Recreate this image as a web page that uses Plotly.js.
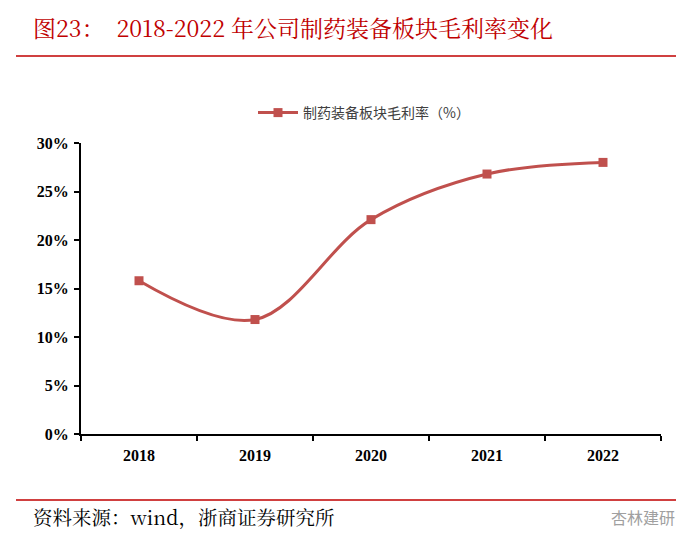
<!DOCTYPE html>
<html><head><meta charset="utf-8">
<script src="https://cdn.plot.ly/plotly-3.0.1.min.js"></script>
<style>body{margin:0;background:#fff}#c{width:700px;height:547px}</style>
</head><body><div id="c"></div>
<script>
const years = ['2018','2019','2020','2021','2022'];
const grossMargin = [15.8, 11.8, 22.1, 26.8, 28.0];
const seriesName = '制药装备板块毛利率（%）';
const yTicks = [0,5,10,15,20,25,30];
const yTickText = yTicks.map(v => v + '%');

const L = 81, R = 661, T = 143, B = 434;
const px = x => (x - L) / (R - L);
const py = y => (B - y) / (B - T);

const trace = {
  x: years, y: grossMargin, name: seriesName, type: 'scatter', mode: 'lines+markers',
  line: {color: '#c0504d', width: 3, shape: 'spline', smoothing: 1},
  marker: {symbol: 'square', size: 9, color: '#c0504d'}
};
const tickFont = {family: 'Liberation Serif', size: 16, color: '#000', weight: 'bold'};
const layout = {
  width: 700, height: 547,
  margin: {l: L, r: 700 - R, t: T, b: 547 - B},
  paper_bgcolor: '#fff', plot_bgcolor: '#fff',
  showlegend: true,
  legend: {x: px(253), y: py(113), xanchor: 'left', yanchor: 'middle', orientation: 'h',
    font: {family: 'Noto Sans CJK SC', size: 14, color: '#404040'}, itemwidth: 40},
  xaxis: {type: 'category', tickson: 'boundaries', ticks: 'outside', ticklen: 5, tickwidth: 2,
    tickcolor: '#000', showline: true, linecolor: '#000', linewidth: 2, showgrid: false,
    zeroline: false, range: [-0.5, 4.5], fixedrange: true, ticklabelstandoff: 6,
    tickfont: tickFont},
  yaxis: {range: [0, 30], tickvals: yTicks, ticktext: yTickText, ticks: 'outside', ticklen: 5,
    tickwidth: 2, tickcolor: '#000', showline: true, linecolor: '#000', linewidth: 2,
    showgrid: false, zeroline: false, ticklabelstandoff: 2,
    tickfont: tickFont},
  shapes: [
    {type: 'line', xref: 'paper', yref: 'paper', x0: px(16), x1: px(676), y0: py(56), y1: py(56),
      line: {color: '#c00000', width: 1.5}},
    {type: 'line', xref: 'paper', yref: 'paper', x0: px(16), x1: px(676), y0: py(500), y1: py(500),
      line: {color: '#c00000', width: 1.5}}
  ],
  annotations: [
    {text: '图23：  2018-2022 年公司制药装备板块毛利率变化', xref: 'paper', yref: 'paper',
      x: px(31), y: py(27), xanchor: 'left', yanchor: 'middle', showarrow: false,
      font: {family: 'Noto Serif CJK SC, Noto Sans CJK SC', size: 23, color: '#c00000'}},
    {text: '资料来源：wind，浙商证券研究所', xref: 'paper', yref: 'paper',
      x: px(31), y: py(517), xanchor: 'left', yanchor: 'middle', showarrow: false,
      font: {family: 'Noto Serif CJK SC, Noto Sans CJK SC', size: 19.5, color: '#000'}},
    {text: '杏林建研', xref: 'paper', yref: 'paper',
      x: px(677), y: py(517), xanchor: 'right', yanchor: 'middle', showarrow: false,
      font: {family: 'Noto Sans CJK SC', size: 16, color: '#a0a0a0'}}
  ]
};
Plotly.newPlot('c', [trace], layout, {displayModeBar: false, staticPlot: true});
</script></body></html>
